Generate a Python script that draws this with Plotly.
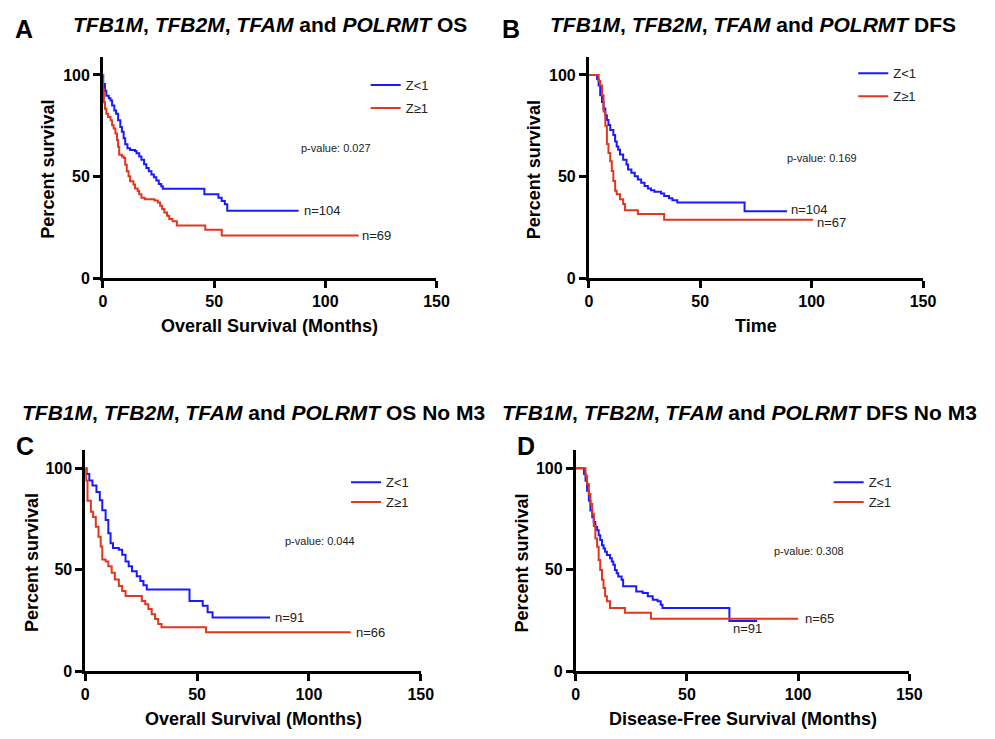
import plotly.graph_objects as go

W, H = 995, 739
FONT = "Liberation Sans, Arial, Helvetica, sans-serif"
BLUE = "#1a1aff"
RED = "#e2361f"

# ---------------- data (months, percent survival) ----------------
a_blue_t = [0, 0.1, 0.9, 1.5, 2.6, 3.4, 4.1, 5.1, 5.9, 6.8, 7.8, 8.5, 9.3, 10, 11, 12.2, 14.4, 15.1, 16.3,
            17.3, 18.5, 19.5, 20.6, 21.8, 22.9, 24, 25.1, 26.2, 26.9, 45.6, 51.9, 53.4, 54.8, 55.9, 88]
a_blue_s = [100, 95.5, 92.2, 89.8, 88.5, 87.4, 85, 82.5, 80.9, 77.7, 74.4, 72, 68.8, 65.9, 63.9, 63.1, 62.6,
            61.5, 59.9, 58.3, 56.1, 54.2, 52.6, 51, 49.7, 48.1, 46.4, 45.3, 44, 41.3, 39.6, 38, 36.4, 33.2, 33.2]
a_red_t = [0, 0.05, 0.4, 0.9, 1.5, 2.3, 3.4, 4.1, 4.8, 5.6, 6.3, 6.8, 7.3, 8.5, 9.3, 10, 10.7, 11.5, 12.2,
           13.7, 14.4, 15.6, 16.3, 17.3, 18.8, 23.2, 24.7, 25.7, 26.6, 27.6, 28.8, 29.8, 31.3, 33.2, 46, 53.4, 115]
a_red_s = [100, 93, 86.6, 83.3, 80.9, 79.3, 77.7, 75.2, 73.6, 71.2, 68, 64.7, 60.7, 59.9, 59.1, 55.8, 52.6,
           50.2, 47.7, 46.1, 44.2, 42.9, 41.3, 39.6, 38.8, 38.3, 37.2, 35.6, 34, 32.4, 30.7, 29.1, 28, 25.9,
           23.8, 21, 21]

b_blue_t = [0, 3.7, 4.4, 5.1, 5.9, 6.6, 7.4, 8.1, 8.8, 9.6, 11, 11.8, 12.5, 13.2, 14, 15.4, 16.9, 17.6,
            19.1, 20.6, 22, 23.5, 25, 26.5, 27.9, 29.4, 32.4, 33.8, 36, 37.5, 39.7, 69.9, 89]
b_blue_s = [100, 98, 94.8, 90, 86.7, 83.5, 80.2, 77.8, 75.4, 72.9, 70.5, 67.3, 64.8, 63.2, 60.8, 58.3,
            55.9, 53.5, 51.9, 50.2, 48.6, 47, 45.4, 44.2, 43.3, 42.6, 41.7, 40.5, 39.4, 38.4, 37.3, 32.9, 32.9]
b_red_t = [0, 4.4, 5.1, 5.9, 6.6, 7.4, 8.1, 8.8, 9.6, 10.3, 11, 11.8, 12.5, 14, 15.4, 16.2, 22, 33.8, 100.7]
b_red_s = [100, 97, 94.8, 90, 82, 75, 66, 61.6, 57.5, 52.7, 47.8, 43, 41.3, 38.9, 36.5, 33.5, 31.6,
           28.8, 28.8]

c_blue_t = [0, 0.6, 1.8, 3.2, 5, 6.5, 7.6, 9.1, 10.3, 11.3, 12.4, 15, 16.5, 18, 19.4, 20.9, 23, 24.6,
            26, 27.5, 46.6, 52.5, 54.7, 56.9, 82.6]
c_blue_s = [100, 97.2, 94, 91.5, 88.3, 84.2, 79.3, 74.5, 68, 63, 60.7, 59.8, 57.4, 54.1, 51.7, 49.3,
            46.8, 44.4, 42.3, 40.3, 34.6, 32.2, 29, 26.5, 26.5]
c_red_t = [0, 0.3, 1, 2.5, 3.5, 4.7, 5.9, 6.9, 7.6, 9.1, 10.3, 11.8, 13.2, 15, 16.5, 18, 25.3, 26.8,
           28.2, 29.7, 31.2, 32.6, 34.1, 54, 118.7]
c_red_s = [100, 94, 84, 78.5, 76, 71.2, 66.3, 61.5, 55, 54.1, 51.7, 48.5, 45.2, 42, 39.5, 37.1, 34.6,
           33, 30.6, 28.1, 25.7, 23.3, 21.7, 19.2, 19.2]

d_blue_t = [0, 2.9, 3.7, 4.4, 5.1, 5.9, 6.6, 7.4, 8.1, 8.8, 9.6, 10.3, 11, 11.8, 12.5, 13.2, 14, 15.4,
            16.2, 16.9, 17.6, 18.4, 19.1, 20.6, 21.3, 27.2, 30.1, 32.4, 34.6, 36.8, 38.2, 39, 69.1, 81.6]
d_blue_s = [100, 100, 97.1, 93.8, 88.9, 84, 79.2, 75.9, 73.5, 71, 69.4, 67, 64.6, 62.1, 60.5, 58.9,
            57.2, 55.6, 54, 52.4, 49.9, 48.3, 46.7, 45, 41.8, 39.3, 38.5, 36.9, 35.2, 34.5, 32.8, 31.2,
            24.7, 24.7]
d_red_t = [0, 3.7, 4.4, 5.1, 5.9, 6.6, 7.4, 8.1, 8.8, 9.6, 10.3, 11, 11.8, 12.5, 13.2, 14, 15.4, 22.1,
           33.8, 100]
d_red_s = [100, 100, 96.3, 92.2, 87.3, 82.4, 77.6, 71.5, 65.4, 61.3, 54.8, 49.9, 45, 41, 36.9, 34.5,
           31.2, 28.8, 25.9, 25.9]

series_names = ["Z<1", "Z\u22651"]
x_ticks = [0, 50, 100, 150]
y_ticks = [0, 50, 100]

title_genes = "<i>TFB1M</i>, <i>TFB2M</i>, <i>TFAM</i> and <i>POLRMT</i>"
panel_titles = [title_genes + " OS", title_genes + " DFS",
                title_genes + " OS No M3", title_genes + " DFS No M3"]
panel_letters = ["A", "B", "C", "D"]
x_titles = ["Overall Survival (Months)", "Time", "Overall Survival (Months)",
            "Disease-Free Survival (Months)"]
y_title = "Percent survival"
p_values = ["p-value: 0.027", "p-value: 0.169", "p-value: 0.044", "p-value: 0.308"]
n_blue = ["n=104", "n=104", "n=91", "n=91"]
n_red = ["n=69", "n=67", "n=66", "n=65"]

curves = [(a_blue_t, a_blue_s, a_red_t, a_red_s),
          (b_blue_t, b_blue_s, b_red_t, b_red_s),
          (c_blue_t, c_blue_s, c_red_t, c_red_s),
          (d_blue_t, d_blue_s, d_red_t, d_red_s)]

# ---------------- layout geometry (pixels) ----------------
# (x0, x150, y0, ytop)
geo = [(100.7, 440.0, 281.7, 57.3),
       (595.0, 935.0, 281.7, 57.3),
       (82.7, 424.0, 679.5, 455.5),
       (581.7, 921.0, 679.5, 455.5)]
YMAX = 109
letter_pos = [(20, 29), (516, 29), (21, 451), (531, 451)]
title_pos = [(271, 25), (762, 25), (254, 418), (748, 418)]
xtitle_y = [330, 330, 728, 728]
ytitle_x = [45, 540, 28, 527]
legend_pos = [(368, 71), (864, 59), (348, 473), (839, 473)]
legend_gap = [3, 3, 0, 0]
# label positions in data units: (pval x, pval y, nblue x, nblue y, nred x, nred y)
label_pos = [(88, 64, 89.5, 33.3, 115.8, 21.2),
             (88.2, 59.1, 89.8, 34.0, 101.5, 27.2),
             (88.4, 64, 84, 26.5, 120.2, 19.2),
             (88.2, 59.1, 69.8, 21, 102.2, 26)]


def px(x):
    return x / W


def py(y):
    return 1 - y / H


fig = go.Figure()
annotations = []


def paper_text(text, x, y, size, weight="bold", angle=0):
    return dict(text=text, x=px(x), y=py(y), xref="paper", yref="paper", showarrow=False,
                xanchor="center", yanchor="middle", textangle=angle,
                font=dict(family=FONT, size=size, color="black", weight=weight))


for i in range(4):
    bt, bs, rt, rs = curves[i]
    sfx = "" if i == 0 else str(i + 1)
    xa, ya = "x" + sfx, "y" + sfx
    leg = "legend" + sfx
    for name, t, s, col in [(series_names[0], bt, bs, BLUE), (series_names[1], rt, rs, RED)]:
        fig.add_trace(go.Scatter(x=t, y=s, mode="lines", name=name,
                                 line=dict(color=col, width=2, shape="hv"),
                                 xaxis=xa, yaxis=ya, legend=leg,
                                 legendgroup=f"{i}{name}", showlegend=True))
    x0, x1, y0, yt = geo[i]
    axis_common = dict(showline=True, linecolor="black", linewidth=2.8, ticks="outside",
                       ticklen=7, tickwidth=2.8, tickcolor="black", showgrid=False,
                       zeroline=False, tickfont=dict(family=FONT, size=16, color="black",
                                                     weight="bold"))
    fig.layout["xaxis" + sfx] = dict(domain=[px(x0), px(x1)], range=[0, 150], tickvals=x_ticks,
                                    anchor=ya, **axis_common)
    fig.layout["yaxis" + sfx] = dict(domain=[py(y0), py(yt)], range=[0, YMAX], tickvals=y_ticks,
                                    anchor=xa, **axis_common)
    lx, ly = legend_pos[i]
    fig.layout[leg] = dict(x=px(lx), y=py(ly), xanchor="left", yanchor="top",
                           bgcolor="rgba(0,0,0,0)", borderwidth=0, tracegroupgap=legend_gap[i],
                           font=dict(family=FONT, size=13, color="#222"))

    annotations.append(paper_text(panel_letters[i], *letter_pos[i], 25))
    annotations.append(paper_text(panel_titles[i], *title_pos[i], 21))
    annotations.append(paper_text(x_titles[i], (x0 + x1) / 2, xtitle_y[i], 18))
    annotations.append(paper_text(y_title, ytitle_x[i], (y0 + yt) / 2 + 2, 18, angle=-90))

    pvx, pvy, nbx, nby, nrx, nry = label_pos[i]
    for txt, tx, ty, sz in [(p_values[i], pvx, pvy, 11), (n_blue[i], nbx, nby, 13),
                            (n_red[i], nrx, nry, 13)]:
        annotations.append(dict(text=txt, x=tx, y=ty, xref=xa, yref=ya, showarrow=False,
                                xanchor="left", yanchor="middle",
                                font=dict(family=FONT, size=sz, color="#222")))

fig.update_layout(width=W, height=H, margin=dict(l=0, r=0, t=0, b=0),
                  paper_bgcolor="white", plot_bgcolor="white",
                  annotations=annotations, showlegend=True)

fig.write_html("out.html")
